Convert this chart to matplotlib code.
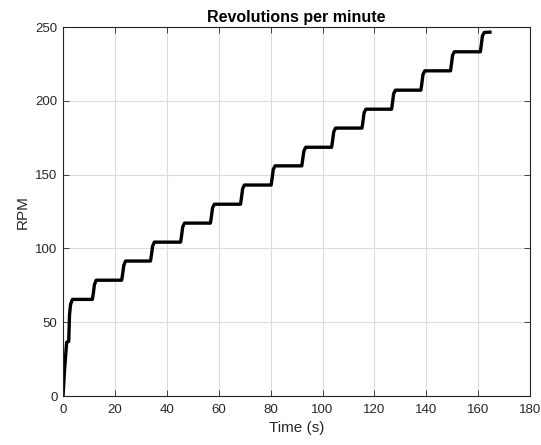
import numpy as np
import matplotlib.pyplot as plt

plt.rcParams['font.family'] = ['Liberation Sans', 'DejaVu Sans']

# RPM trace (vertices of the staircase)
time = [0.0, 0.6, 1.4, 2.2, 2.5, 2.9, 3.6,
        11.3, 11.7, 12.1, 12.8,
        22.6, 23.0, 23.4, 24.1,
        33.7, 34.1, 34.5, 35.2,
        45.3, 45.7, 46.1, 46.8,
        56.8, 57.2, 57.6, 58.3,
        68.4, 68.8, 69.2, 69.9,
        80.2, 80.6, 81.0, 81.7,
        92.0, 92.4, 92.8, 93.5,
        103.5, 103.9, 104.3, 105.0,
        115.2, 115.6, 116.0, 116.7,
        126.6, 127.0, 127.4, 128.1,
        137.9, 138.3, 138.7, 139.4,
        149.3, 149.7, 150.1, 150.8,
        160.8, 161.2, 161.6, 162.3, 164.5]
rpm = [0.0, 18.0, 36.5, 37.0, 55.0, 62.0, 65.5,
       65.5, 70.0, 75.5, 78.5,
       78.5, 83.0, 88.5, 91.5,
       91.5, 96.0, 101.5, 104.3,
       104.3, 109.0, 114.5, 117.2,
       117.2, 122.0, 127.5, 130.0,
       130.0, 135.0, 140.5, 143.0,
       143.0, 148.0, 153.5, 156.0,
       156.0, 161.0, 166.0, 168.6,
       168.6, 173.5, 179.0, 181.6,
       181.6, 186.5, 192.0, 194.4,
       194.4, 199.5, 205.0, 207.3,
       207.3, 212.5, 218.0, 220.4,
       220.4, 225.5, 231.0, 233.3,
       233.3, 238.5, 244.0, 246.4, 246.6]

xticks = np.arange(0, 181, 20)
yticks = np.arange(0, 251, 50)

fig = plt.figure(figsize=(5.41, 4.45), dpi=100)
ax = fig.add_axes([0.1165, 0.110, 0.8635, 0.829])
ax.plot(time, rpm, color='black', linewidth=2.4, solid_joinstyle='round')

ax.set_xlim(0, 180)
ax.set_ylim(0, 250)
ax.set_xticks(xticks)
ax.set_yticks(yticks)
ax.grid(True, color='#dcdcdc', linewidth=0.8)
ax.set_axisbelow(True)
ax.tick_params(direction='in', top=True, right=True, labelsize=9.5,
               length=4, width=0.6, colors='#262626')
ax.tick_params(axis='x', pad=6)
ax.tick_params(axis='y', pad=4)
for s in ax.spines.values():
    s.set_color('#262626')
    s.set_linewidth(0.8)

ax.set_xlabel('Time (s)', fontsize=11, color='#262626', labelpad=3)
ax.set_ylabel('RPM', fontsize=11, color='#262626', labelpad=4)
ax.set_title('Revolutions per minute', fontsize=11.5, fontweight='bold', pad=4)

fig.savefig('out.png', dpi=100)
